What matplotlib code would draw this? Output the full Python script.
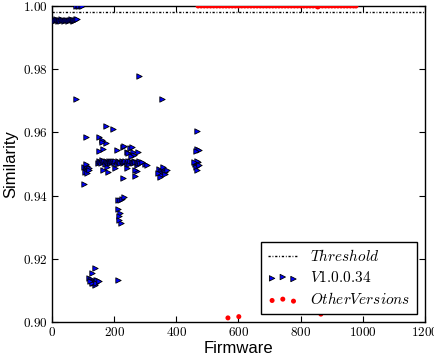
import matplotlib
matplotlib.use("Agg")
import matplotlib.pyplot as plt
from matplotlib.ticker import FuncFormatter

# ---------------- data ----------------
threshold = 0.998

# V1.0.0.34 — band just under 1.0 for the first firmwares
v1_band_x = [0, 3, 6, 9, 12, 15, 18, 21, 24, 27, 30, 33, 36, 39, 42, 45, 48, 51, 54,
             57, 60, 63, 66, 69, 72, 75, 78, 81]
v1_band_y = [0.9955, 0.9957, 0.9954, 0.9956, 0.9958, 0.9955, 0.9953, 0.9957, 0.9956,
             0.9954, 0.9958, 0.9955, 0.9956, 0.9953, 0.9957, 0.9955, 0.9956, 0.9954,
             0.9957, 0.9955, 0.9958, 0.9956, 0.9954, 0.9956, 0.9957, 0.9955, 0.9958, 0.9960]

# V1.0.0.34 — firmwares at 1.0
v1_top_x = [78, 83, 88, 93, 98]
v1_top_y = [1.0, 1.0, 1.0, 1.0, 1.0]

# V1.0.0.34 — scattered points
v1_x = [77, 280, 353, 466, 108, 174, 197, 152, 160, 174, 164, 152, 161, 209, 228, 231,
        251, 257, 241, 260, 277, 244, 264, 254, 299, 305, 273, 267, 228, 103, 177, 203,
        164, 180, 241, 267, 273,
        # dense band ~0.951
        148, 152, 155, 158, 161, 164, 167, 170, 173, 176, 179, 182, 185, 188, 191, 194,
        197, 200, 204, 208, 212, 216, 220, 224, 228, 232, 236, 240, 244, 248, 252, 256,
        260, 264, 268, 272, 276, 280, 284, 289,
        # cluster ~110
        104, 108, 112, 115, 110, 118, 106, 113, 120, 110,
        # cluster ~357
        345, 350, 355, 360, 365, 352, 358, 348, 362, 370, 342,
        # cluster ~466
        460, 465, 470, 462, 468, 472, 458, 465, 466, 472, 462,
        # 0.93x group
        212, 218, 225, 231, 212, 219, 215, 222, 217,
        # 0.913 group
        128, 138, 118, 125, 130, 135, 140, 145, 132, 138, 128, 142, 122, 150, 212]
v1_y = [0.9705, 0.9780, 0.9705, 0.9603, 0.9584, 0.9620, 0.9610, 0.9587, 0.9575, 0.9568,
        0.9547, 0.9540, 0.9570, 0.9544, 0.9554, 0.9556, 0.9552, 0.9553, 0.9537, 0.9537,
        0.9537, 0.9534, 0.9530, 0.9524, 0.9500, 0.9497, 0.9478, 0.9462, 0.9456, 0.9438,
        0.9490, 0.9488, 0.9480, 0.9475, 0.9488, 0.9482, 0.9497,
        0.9504, 0.9510, 0.9507, 0.9502, 0.9512, 0.9505, 0.9509, 0.9501, 0.9511, 0.9506,
        0.9503, 0.9510, 0.9507, 0.9502, 0.9509, 0.9505, 0.9511, 0.9503, 0.9508, 0.9501,
        0.9510, 0.9506, 0.9504, 0.9509, 0.9502, 0.9507, 0.9511, 0.9504, 0.9508, 0.9501,
        0.9510, 0.9506, 0.9503, 0.9509, 0.9505, 0.9507, 0.9502, 0.9508, 0.9504, 0.9506,
        0.9490, 0.9483, 0.9495, 0.9480, 0.9478, 0.9488, 0.9475, 0.9470, 0.9482, 0.9500,
        0.9485, 0.9478, 0.9470, 0.9482, 0.9475, 0.9465, 0.9490, 0.9460, 0.9468, 0.9480, 0.9472,
        0.9500, 0.9495, 0.9505, 0.9490, 0.9510, 0.9498, 0.9505, 0.9482, 0.9546, 0.9544, 0.9540,
        0.9386, 0.9386, 0.9388, 0.9396, 0.9358, 0.9345, 0.9336, 0.9314, 0.9322,
        0.9155, 0.9170, 0.9138, 0.9135, 0.9130, 0.9128, 0.9132, 0.9134, 0.9122, 0.9118,
        0.9125, 0.9125, 0.9131, 0.9130, 0.9133]

# Other versions
other_x = [470, 480, 490, 500, 510, 520, 530, 540, 550, 560, 570, 580, 590, 600, 610,
           620, 630, 640, 650, 660, 670, 680, 690, 700, 710, 720, 730, 740, 750, 760,
           770, 780, 790, 800, 810, 820, 830, 840, 850, 855, 860, 870, 880, 890, 900,
           910, 920, 930, 940, 950, 960, 970, 978,
           566, 601, 865]
other_y = [1.0] * 39 + [0.9997] + [1.0] * 13 + [0.9013, 0.9017, 0.9025]

all_v1_x = v1_band_x + v1_top_x + v1_x
all_v1_y = v1_band_y + v1_top_y + v1_y

xticks = [0, 200, 400, 600, 800, 1000, 1200]
yticks = [0.90, 0.92, 0.94, 0.96, 0.98, 1.00]

# ---------------- plot ----------------
plt.rcParams['mathtext.fontset'] = 'cm'
plt.rcParams['font.family'] = ['Liberation Sans', 'DejaVu Sans']

fig = plt.figure(figsize=(4.35, 3.62), dpi=100, facecolor='white')
ax = fig.add_axes([52 / 435, 1 - 322 / 362, 373 / 435, 316 / 362])

ax.axhline(threshold, color='k', linestyle=(0, (1.6, 1.3, 0.6, 1.3)), lw=1.0,
           label='$Threshold$', zorder=2)
ax.scatter(all_v1_x, all_v1_y, marker='>', s=15, c='#0000ff', edgecolors='k',
           linewidths=0.6, label='$V1.0.0.34$', zorder=3)
ax.scatter(other_x, other_y, marker='o', s=13, c='#ff0000', edgecolors='none',
           label='$OtherVersions$', zorder=3)

ax.set_xlim(0, 1200)
ax.set_ylim(0.90, 1.00)
ax.set_xticks(xticks)
ax.set_yticks(yticks)
ax.xaxis.set_major_formatter(FuncFormatter(lambda v, p: '$%d$' % v))
ax.yaxis.set_major_formatter(FuncFormatter(lambda v, p: '$%.2f$' % v))
ax.tick_params(direction='in', top=True, right=True, length=4, width=0.8,
               labelsize=9.5, pad=3)
for s in ax.spines.values():
    s.set_linewidth(1.0)

ax.set_xlabel('Firmware', fontsize=12, labelpad=1)
ax.set_ylabel('Similarity', fontsize=12, labelpad=3)

leg = ax.legend(loc='lower right', scatterpoints=3, scatteryoffsets=[0.375, 0.5, 0.3125],
                fontsize=11, fancybox=False, framealpha=1, edgecolor='k',
                handlelength=2.0, borderaxespad=0.55, labelspacing=0.4)
leg.get_frame().set_linewidth(1.0)

fig.savefig('out.png', dpi=100, facecolor='white')
